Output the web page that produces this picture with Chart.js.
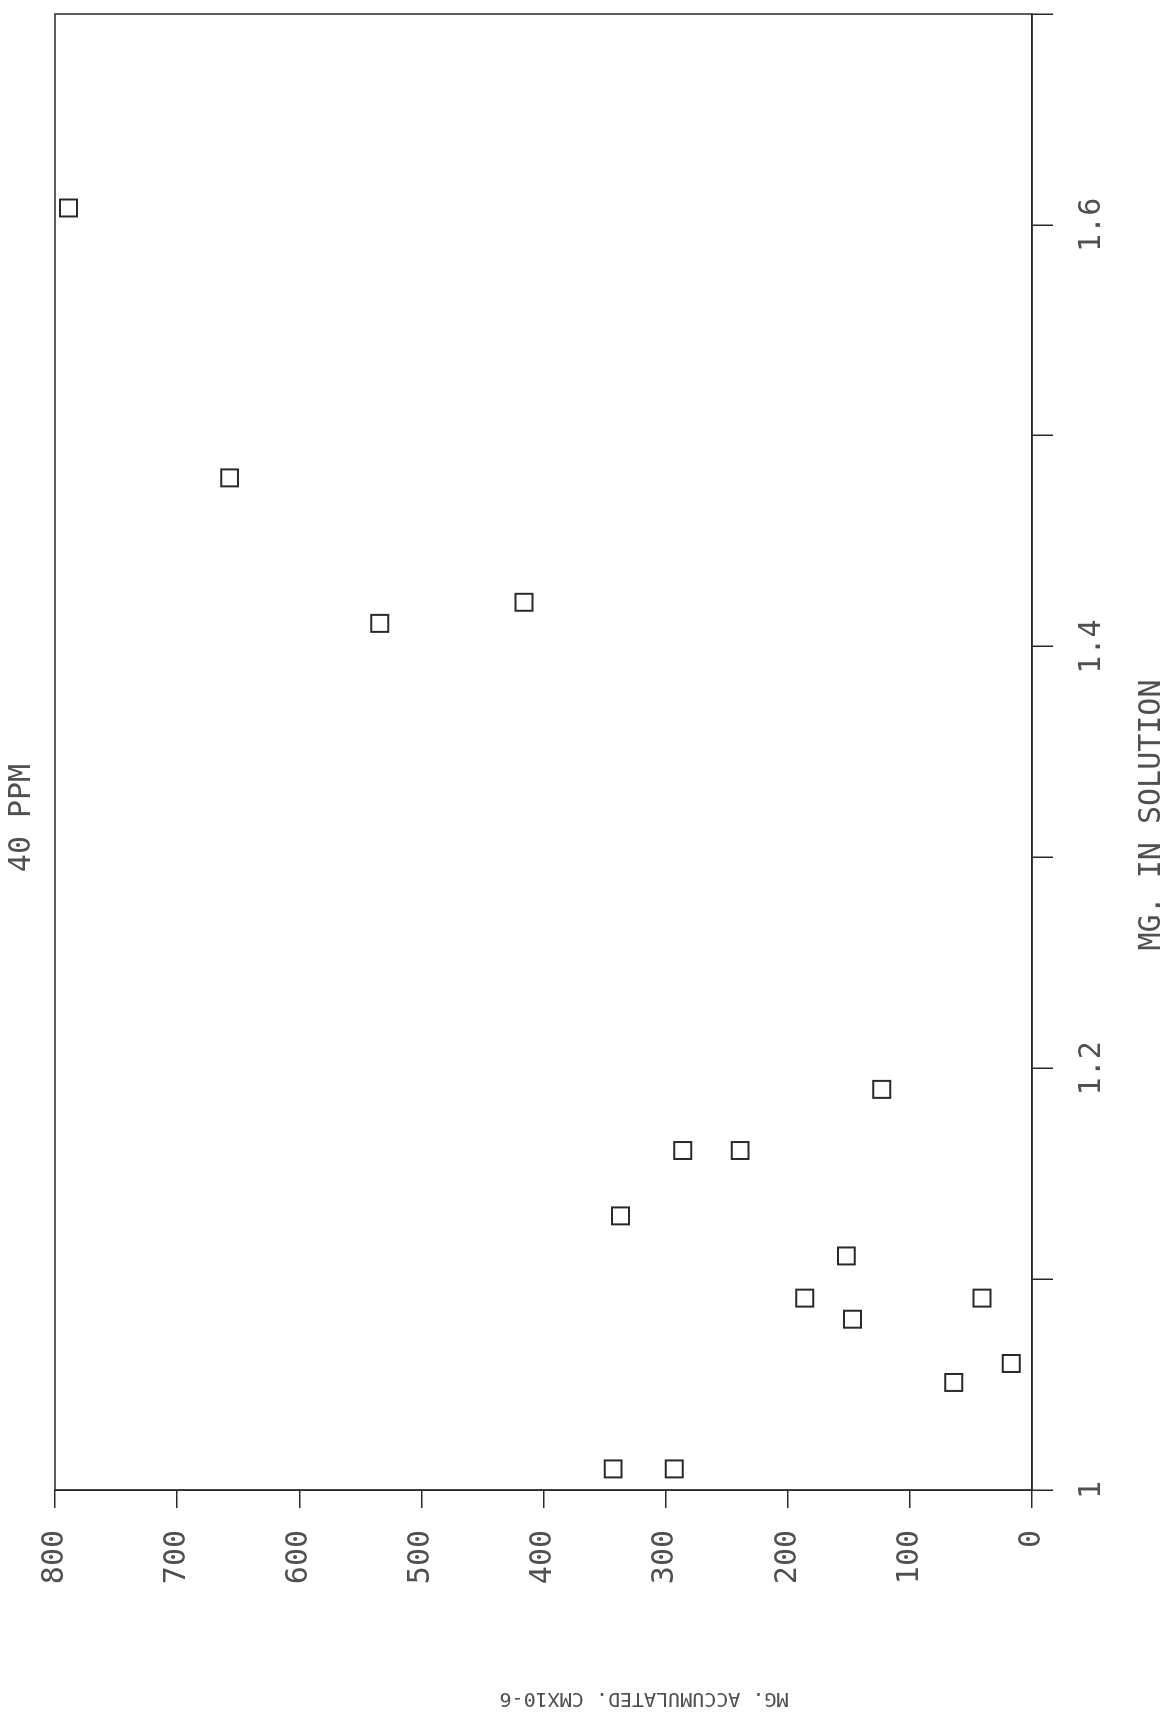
<!DOCTYPE html>
<html>
<head>
<meta charset="utf-8">
<script src="https://cdn.jsdelivr.net/npm/chart.js@4.4.1/dist/chart.umd.min.js"></script>
<style>
  html, body { margin: 0; padding: 0; background: #fff; overflow: hidden; }
  body { width: 1165px; height: 1720px; position: relative; }
  /* the printout is turned on its side: draw it upright, then rotate */
  #wrap {
    position: absolute; left: 0; top: 0;
    width: 1720px; height: 1165px;
    transform-origin: 0 0;
    transform: translateY(1720px) rotate(-90deg);
  }
</style>
</head>
<body>
<div id="wrap"><canvas id="chart" width="1720" height="1165"></canvas></div>
<script>
// MG in solution (x) and MG accumulated, CMX10-6 (y)
const mgSolution    = [1.608, 1.480, 1.411, 1.421, 1.190, 1.161, 1.161, 1.130, 1.111, 1.091, 1.091, 1.081, 1.060, 1.051, 1.010, 1.010];
const mgAccumulated = [789,   657,   534,   416,   123,   286,   239,   337,   152,   186,   41,    147,   17,    64,    343,   293];

const xTickValues = [1, 1.2, 1.4, 1.6];
const xTickText   = ['1', '1.2', '1.4', '1.6'];
const yTickValues = [0, 100, 200, 300, 400, 500, 600, 700, 800];

const chartTitle = '40 PPM';
const xTitle = 'MG. IN SOLUTION';
const yTitle = 'MG. ACCUMULATED. CMX10-6';

const ink = '#2a2a2a';
const textInk = '#505050';
const mono = '"DejaVu Sans Mono", "Liberation Mono", monospace';

const points = mgSolution.map((x, i) => ({ x: x, y: mgAccumulated[i] }));

// frame around the plot and the free-standing labels
const printLayout = {
    id: 'printLayout',
    beforeDatasetsDraw(chart) {
        const a = chart.chartArea, ctx = chart.ctx;
        ctx.save();
        ctx.strokeStyle = ink;
        ctx.lineWidth = 1.5;
        ctx.strokeRect(a.left, a.top, a.right - a.left, a.bottom - a.top);
        ctx.restore();
    },
    afterDraw(chart) {
        const ctx = chart.ctx;
        ctx.save();
        ctx.fillStyle = textInk;
        ctx.textAlign = 'center';
        ctx.textBaseline = 'middle';
        ctx.font = '30px ' + mono;
        ctx.fillText(chartTitle, 902, 22);
        ctx.fillText(xTitle, 905, 1152);
        ctx.translate(22, 644);
        ctx.rotate(-Math.PI / 2);
        ctx.font = '20px ' + mono;
        ctx.fillText(yTitle, 0, 0);
        ctx.restore();
    }
};

new Chart(document.getElementById('chart'), {
    type: 'scatter',
    data: {
        datasets: [{
            data: points,
            pointStyle: 'rect',
            pointRadius: 12,
            pointHoverRadius: 12,
            borderColor: ink,
            borderWidth: 2,
            backgroundColor: 'rgba(0,0,0,0)'
        }]
    },
    options: {
        responsive: false,
        animation: false,
        devicePixelRatio: 1,
        layout: { padding: { left: 0, right: 13, top: 55, bottom: 0 } },
        plugins: {
            legend: { display: false },
            tooltip: { enabled: false },
            title: { display: false }
        },
        scales: {
            x: {
                type: 'linear',
                min: 1, max: 1.7,
                afterFit: s => { s.height = 133; },
                grid: { drawOnChartArea: false, drawTicks: true, tickLength: 21, color: ink, lineWidth: 1.5 },
                border: { display: true, color: ink, width: 1.5 },
                ticks: {
                    stepSize: 0.1,
                    autoSkip: false,
                    maxRotation: 0,
                    padding: 13,
                    color: textInk,
                    font: { family: mono, size: 30, lineHeight: 1.73 },
                    callback: v => {
                        const i = xTickValues.indexOf(Math.round(v * 10) / 10);
                        return i >= 0 ? xTickText[i] : '';
                    }
                }
            },
            y: {
                type: 'linear',
                min: 0, max: 800,
                afterFit: s => { s.width = 230; },
                afterBuildTicks: s => { s.ticks = yTickValues.map(v => ({ value: v })); },
                grid: { drawOnChartArea: false, drawTicks: true, tickLength: 18, color: ink, lineWidth: 1.5 },
                border: { display: true, color: ink, width: 1.5 },
                ticks: {
                    padding: 22,
                    color: textInk,
                    font: { family: mono, size: 30 },
                    callback: v => String(v)
                }
            }
        }
    },
    plugins: [printLayout]
});
</script>
</body>
</html>
